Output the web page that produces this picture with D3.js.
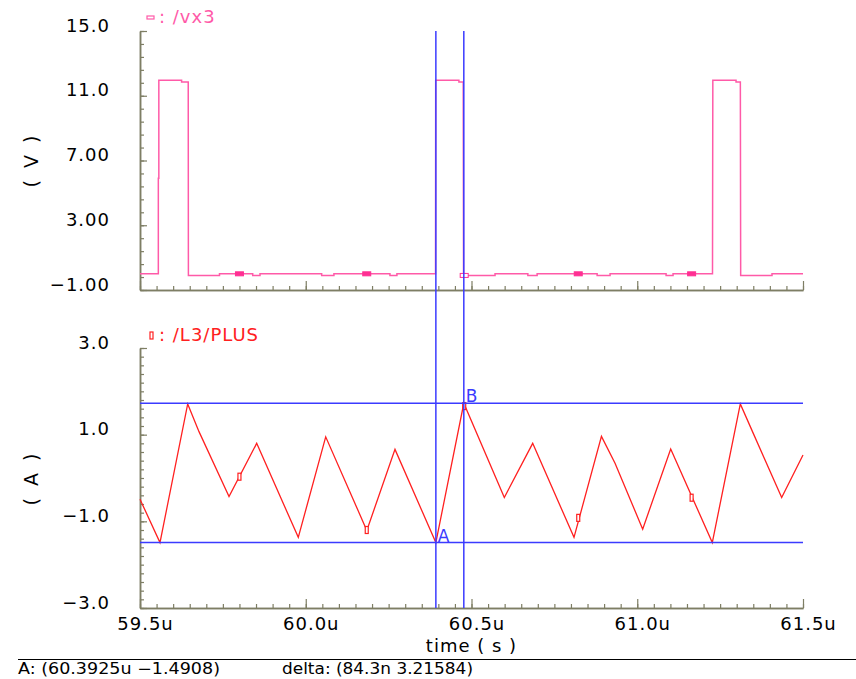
<!DOCTYPE html>
<html>
<head>
<meta charset="utf-8">
<script src="https://cdn.jsdelivr.net/npm/d3@7"></script>
<style>
  html, body { margin: 0; padding: 0; background: #ffffff; }
  svg { display: block; }
  text { font-family: "DejaVu Sans", sans-serif; }
</style>
</head>
<body>
<script>
// ---------------- data ----------------
const timeMajorTicks = [59.5, 60.0, 60.5, 61.0, 61.5];
const timeTickLabels = ["59.5u", "60.0u", "60.5u", "61.0u", "61.5u"];
const vMajorTicks = [-1, 3, 7, 11, 15];
const vTickLabels = ["\u22121.00", "3.00", "7.00", "11.0", "15.0"];
const iMajorTicks = [-3, -1, 1, 3];
const iTickLabels = ["\u22123.0", "\u22121.0", "1.0", "3.0"];

// /vx3 waveform (time in us, volts)
const vxTime = [59.5, 59.5553, 59.5553, 59.5568, 59.5568, 59.6255, 59.6255, 59.6455, 59.6460,
  59.7398, 59.7398, 59.840, 59.840, 59.862, 59.862, 60.048, 60.048, 60.085, 60.085,
  60.254, 60.254, 60.275, 60.275, 60.3915, 60.392, 60.462, 60.462, 60.475, 60.476,
  60.571, 60.571, 60.670, 60.670, 60.698, 60.698, 60.879, 60.879, 60.918, 60.918,
  61.087, 61.087, 61.108, 61.108, 61.227, 61.228, 61.298, 61.298, 61.311, 61.312,
  61.4065, 61.4065, 61.5];
const vxValue = [0.0, 0.0, 5.9, 5.9, 11.95, 11.95, 11.85, 11.85, -0.1,
  -0.1, 0.0, 0.0, -0.1, -0.1, 0.0, 0.0, -0.1, -0.1, 0.0,
  0.0, -0.1, -0.1, 0.0, 0.0, 11.95, 11.95, 11.85, 11.85, -0.1,
  -0.1, 0.0, 0.0, -0.1, -0.1, 0.0, 0.0, -0.1, -0.1, 0.0,
  0.0, -0.1, -0.1, 0.0, 0.0, 11.95, 11.95, 11.85, 11.85, -0.1,
  -0.1, 0.0, 0.0];

// /L3/PLUS waveform (time in us, amperes)
const plusTime = [59.5, 59.5603, 59.6439, 59.678, 59.7685, 59.852, 59.9775, 60.0602, 60.1842,
  60.2692, 60.3925, 60.4768, 60.599, 60.6846, 60.8092, 60.892, 60.933, 61.0164,
  61.1009, 61.2264, 61.3109, 61.35, 61.4357, 61.5];
const plusValue = [-0.49, -1.49, 1.71, 1.07, -0.43, 0.80, -1.37, 0.95, -1.21,
  0.66, -1.4908, 1.72504, -0.45, 0.80, -1.37, 0.96, 0.34, -1.18,
  0.67, -1.49, 1.71, 1.03, -0.45, 0.53];

// waveform markers
const markerTime = [59.800, 60.184, 60.478, 60.822, 61.164];
const vxMarkerValue = [0.0, 0.0, -0.1, 0.0, 0.0];
const plusMarkerValue = [0.03, -1.2, 1.66, -0.92, -0.455];

// cursors
const cursorNames = ["A", "B"];
const cursorTime = [60.3925, 60.4768];
const cursorValue = [-1.4908, 1.72504];

// readouts
const readoutLeft = ["A: (60.3925u \u22121.4908)"];
const readoutRight = ["delta: (84.3n 3.21584)"];

// ---------------- drawing ----------------
const W = 856, H = 679;
const svg = d3.select("body").append("svg").attr("width", W).attr("height", H);

const AXIS = "#7e7e64", PINK = "#ff5aa8", PINKM = "#ff2f93", RED = "#ff2020", BLUE = "#3b3bff";

const x = d3.scaleLinear().domain([59.5, 61.5]).range([140, 803]);
const yV = d3.scaleLinear().domain([-1, 15]).range([290, 31]);
const yI = d3.scaleLinear().domain([-3, 3]).range([608, 348]);

const minorX = d3.range(0, 41).map(i => 59.5 + i * 0.05);
const minorV = d3.range(0, 21).map(i => -1 + i * 0.8);
const minorI = d3.range(0, 31).map(i => -3 + i * 0.2);

function styleAxis(g) {
  g.selectAll("path.domain").attr("stroke", AXIS).attr("stroke-width", 1.5);
  g.selectAll(".tick line").attr("stroke", AXIS).attr("stroke-width", 1.2);
  g.selectAll(".tick text").attr("fill", "#000").attr("font-size", 18)
    .attr("letter-spacing", 1).attr("font-family", "DejaVu Sans, sans-serif");
}

function drawPanel(yScale, majors, labels, minors, bottomY, showXLabels) {
  svg.append("g").attr("transform", "translate(140,0)")
    .call(d3.axisLeft(yScale).tickValues(minors).tickSizeInner(-4).tickSizeOuter(0).tickFormat(""))
    .call(styleAxis);
  svg.append("g").attr("transform", "translate(140,0)")
    .call(d3.axisLeft(yScale).tickValues(majors).tickSizeInner(-7).tickSizeOuter(0)
      .tickPadding(30).tickFormat((d) => labels[majors.indexOf(d)]))
    .call(styleAxis)
    .call(g => g.selectAll(".tick text").attr("dy", "0.0em"));
  svg.append("g").attr("transform", `translate(0,${bottomY})`)
    .call(d3.axisBottom(x).tickValues(minorX).tickSizeInner(-4).tickSizeOuter(0).tickFormat(""))
    .call(styleAxis);
  const gx = svg.append("g").attr("transform", `translate(0,${bottomY})`)
    .call(d3.axisBottom(x).tickValues(timeMajorTicks).tickSizeInner(-9).tickSizeOuter(0)
      .tickPadding(9).tickFormat((d) => showXLabels ? timeTickLabels[timeMajorTicks.indexOf(d)] : ""))
    .call(styleAxis);
  gx.selectAll(".tick text").attr("dx", 5);
}

drawPanel(yV, vMajorTicks, vTickLabels, minorV, 290, false);
drawPanel(yI, iMajorTicks, iTickLabels, minorI, 608, true);

// axis titles
svg.append("text").attr("transform", "translate(38,160) rotate(-90)")
  .attr("text-anchor", "middle").attr("font-size", 19).attr("letter-spacing", 3).text("( V )");
svg.append("text").attr("transform", "translate(38,478) rotate(-90)")
  .attr("text-anchor", "middle").attr("font-size", 19).attr("letter-spacing", 3).text("( A )");
svg.append("text").attr("x", 471.5).attr("y", 652).attr("text-anchor", "middle")
  .attr("font-size", 18).attr("letter-spacing", 1).text("time ( s )");

// legends
svg.append("rect").attr("x", 147).attr("y", 16).attr("width", 7).attr("height", 3)
  .attr("fill", "none").attr("stroke", PINK).attr("stroke-width", 1.2);
svg.append("text").attr("x", 159).attr("y", 23).attr("fill", PINK).attr("font-size", 18)
  .attr("letter-spacing", 1).text(": /vx3");
svg.append("rect").attr("x", 150).attr("y", 332).attr("width", 3).attr("height", 7)
  .attr("fill", "none").attr("stroke", RED).attr("stroke-width", 1.2);
svg.append("text").attr("x", 159).attr("y", 341).attr("fill", RED).attr("font-size", 18)
  .attr("letter-spacing", 1).text(": /L3/PLUS");

// waveforms
const lineV = d3.line().x(d => x(d[0])).y(d => yV(d[1]));
svg.append("path").datum(vxTime.map((t, i) => [t, vxValue[i]]))
  .attr("d", lineV).attr("fill", "none").attr("stroke", PINK).attr("stroke-width", 1.5);

const lineI = d3.line().x(d => x(d[0])).y(d => yI(d[1]));
svg.append("path").datum(plusTime.map((t, i) => [t, plusValue[i]]))
  .attr("d", lineI).attr("fill", "none").attr("stroke", RED).attr("stroke-width", 1.3);

// markers
svg.append("g").selectAll("rect").data(markerTime).join("rect")
  .attr("x", d => x(d) - 4).attr("y", (d, i) => yV(vxMarkerValue[i]) - 2)
  .attr("width", 8).attr("height", 4)
  .attr("fill", (d, i) => i === 2 ? "#fff" : PINKM)
  .attr("stroke", PINKM).attr("stroke-width", 1);
svg.append("g").selectAll("rect").data(markerTime).join("rect")
  .attr("x", d => x(d) - 1.5).attr("y", (d, i) => yI(plusMarkerValue[i]) - 3.5)
  .attr("width", 3).attr("height", 7)
  .attr("fill", "#fff").attr("stroke", RED).attr("stroke-width", 1.2);

// cursors
cursorTime.forEach((t, i) => {
  svg.append("line").attr("x1", x(t)).attr("x2", x(t)).attr("y1", 31).attr("y2", 608)
    .attr("stroke", BLUE).attr("stroke-width", 1.5);
  svg.append("line").attr("x1", 140).attr("x2", 803)
    .attr("y1", yI(cursorValue[i])).attr("y2", yI(cursorValue[i]))
    .attr("stroke", BLUE).attr("stroke-width", 1.5);
  svg.append("text").attr("x", x(t) + 2).attr("y", yI(cursorValue[i]) - 1)
    .attr("fill", BLUE).attr("font-size", 17).text(cursorNames[i]);
});

// readout area
svg.append("line").attr("x1", 18).attr("x2", 856).attr("y1", 659.5).attr("y2", 659.5)
  .attr("stroke", "#000").attr("stroke-width", 1);
readoutLeft.forEach((s) => {
  svg.append("text").attr("x", 18).attr("y", 674)
    .attr("font-family", "Liberation Mono, monospace").attr("font-size", 15)
    .attr("textLength", 202).attr("lengthAdjust", "spacingAndGlyphs").text(s);
});
readoutRight.forEach((s) => {
  svg.append("text").attr("x", 282).attr("y", 674)
    .attr("font-family", "Liberation Mono, monospace").attr("font-size", 15)
    .attr("textLength", 191).attr("lengthAdjust", "spacingAndGlyphs").text(s);
});
</script>
</body>
</html>
